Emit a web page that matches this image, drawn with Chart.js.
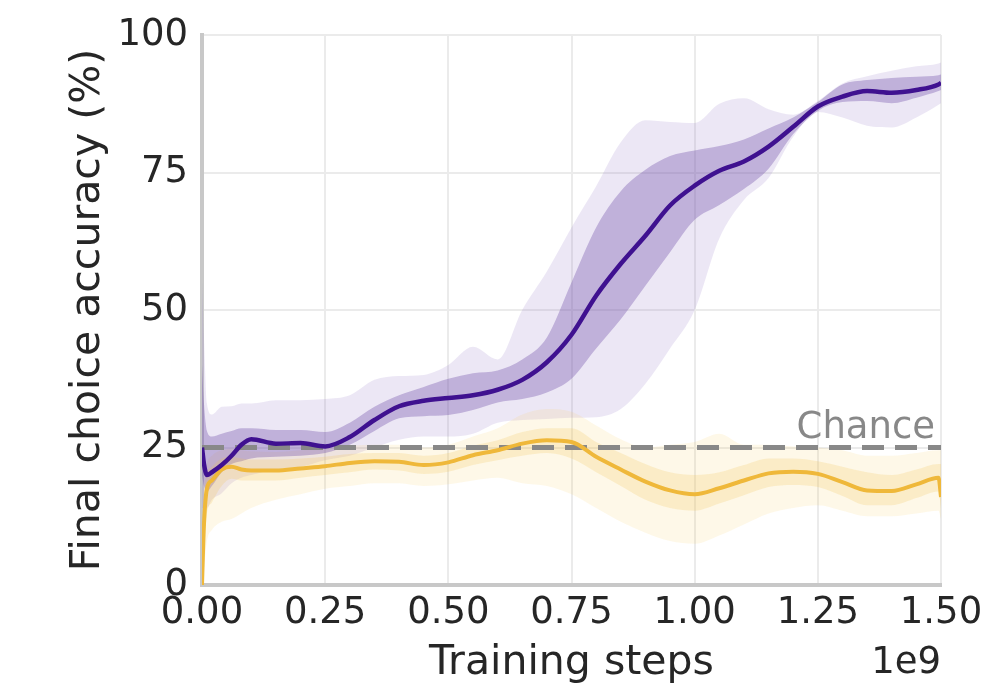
<!DOCTYPE html>
<html>
<head>
<meta charset="utf-8">
<script src="https://cdn.jsdelivr.net/npm/chart.js@4/dist/chart.umd.min.js"></script>
<style>
  body { margin: 0; background: #fff; }
  canvas { display: block; }
</style>
</head>
<body>
<canvas id="accChart" width="985" height="688"></canvas>
<script>
// training steps, in units of 1e9
const steps = [0, 0.004, 0.01, 0.02, 0.04, 0.06, 0.08, 0.1, 0.15, 0.2, 0.25, 0.3, 0.35, 0.4, 0.45, 0.5, 0.55, 0.6, 0.65, 0.7, 0.75, 0.8, 0.85, 0.9, 0.95, 1.0, 1.05, 1.1, 1.15, 1.2, 1.25, 1.3, 1.35, 1.4, 1.45, 1.495, 1.5];

// purple run
const purpleMean    = [25, 22, 20, 20.5, 21.8, 23.5, 25.5, 26.5, 25.7, 25.8, 25.2, 26.9, 30, 32.5, 33.5, 34, 34.5, 35.5, 37.3, 40.5, 45.5, 52.6, 58.4, 63.5, 69, 72.6, 75.3, 77, 79.7, 83.3, 87, 88.8, 89.8, 89.5, 90, 91, 91.3];
const purpleInnerLo = [20, 18, 17, 18, 20.5, 22, 22.5, 23, 23.3, 23.5, 24, 25.5, 28, 30.3, 30.7, 30.9, 31.8, 33.2, 33.8, 35, 37.5, 43, 48.3, 54.4, 60.5, 66.4, 69.1, 72, 75.7, 82, 86.2, 87.8, 88, 87.6, 88.6, 89.8, 90];
const purpleInnerHi = [40, 33, 28, 27, 27.5, 28, 28.5, 28.5, 28.2, 28.2, 27.8, 29.5, 32.4, 34.5, 36, 37.5, 38.5, 39, 41, 45, 55, 65, 71.6, 75.5, 78, 79, 79.8, 81, 83, 85, 87.8, 91, 91.8, 92.2, 92.4, 92.7, 92.8];
const purpleOuterLo = [14, 14, 14, 15.5, 16.7, 18.5, 19.5, 20, 21, 21.5, 22.7, 23.5, 25, 26.4, 27, 27, 27.5, 29.5, 30, 30.2, 30.4, 30.5, 32, 36.6, 43, 50, 63, 70, 74, 81.5, 86, 85, 83.5, 83.2, 85, 87.3, 87.6];
const purpleOuterHi = [55, 45, 33, 31, 32.4, 32.5, 33, 33, 33.6, 33.6, 33.8, 34.5, 37.3, 38, 38.2, 40, 43.3, 41, 50, 57, 65, 72.5, 80.5, 84.5, 84.2, 84, 87.5, 88.5, 86.5, 85.5, 88, 91.2, 92.5, 93.5, 94.3, 94.8, 95];

// yellow run
const yellowMean    = [0, 11, 17.5, 19, 21, 21.5, 21, 20.8, 20.8, 21.2, 21.6, 22.2, 22.5, 22.4, 21.8, 22.3, 23.6, 24.5, 25.7, 26.3, 26, 23.3, 21, 18.8, 17.2, 16.5, 17.6, 19, 20.3, 20.6, 20.2, 18.7, 17.2, 17.1, 18.3, 19.5, 16];
const yellowInnerLo = [0, 7, 13, 15, 18, 19.3, 19, 19, 19, 19.5, 20, 20.5, 21, 20.8, 20.2, 20.6, 21.8, 22.7, 23.5, 24, 23, 20.5, 18, 15.5, 14, 13.5, 14.8, 16.3, 17.8, 18.2, 17.8, 16.2, 14.5, 14.5, 15.8, 17, 14];
const yellowInnerHi = [2, 15, 20, 21.5, 23, 23.3, 23, 22.8, 22.8, 23, 23.3, 23.8, 24, 24, 23.5, 24, 25.3, 26.3, 27.8, 28.5, 28.5, 26, 24, 22, 20.5, 20, 20.5, 21.8, 23, 23, 22.5, 21.5, 20.5, 20, 21, 22, 22];
const yellowOuterLo = [0, 3, 8, 10, 11.5, 12, 13, 14, 15.5, 16.5, 17.5, 18, 18.5, 18.5, 18, 18.3, 19, 19.5, 18.5, 18, 16.5, 14, 11.5, 9.5, 8, 7.5, 9, 11, 13, 14, 14.5, 13.5, 12.5, 12.5, 13, 13.5, 12];
const yellowOuterHi = [4, 18, 22, 23.5, 24.5, 24.8, 24.5, 24.3, 24.2, 24.5, 24.8, 25.3, 25.5, 25.5, 25, 25.5, 27, 28.5, 31, 32, 31.5, 29, 26.5, 25, 25.5, 26, 27.5, 25.5, 25.5, 25.2, 25, 24.5, 23.5, 23.5, 24, 24.5, 24.5];

const chanceLevel = 25;
const xTicks = [0, 0.25, 0.5, 0.75, 1.0, 1.25, 1.5];
const yTicks = [0, 25, 50, 75, 100];

const pts = arr => steps.map((s, i) => ({ x: s, y: arr[i] }));

function bandEdge(arr, order) {
    return { data: pts(arr), borderWidth: 0, borderColor: 'transparent', fill: false, order: order };
}
function bandTop(arr, color, order) {
    return { data: pts(arr), borderWidth: 0, borderColor: 'transparent', backgroundColor: color, fill: '-1', order: order };
}

const FONT = 'DejaVu Sans';

// Chance label and the axis offset text
const extraText = {
    id: 'extraText',
    afterDraw(chart) {
        const { ctx, scales: { x, y } } = chart;
        ctx.save();
        ctx.font = '37px "' + FONT + '"';
        ctx.textAlign = 'right';
        ctx.textBaseline = 'alphabetic';
        ctx.fillStyle = '#888888';
        ctx.fillText('Chance', x.getPixelForValue(1.488), y.getPixelForValue(chanceLevel) - 10);
        ctx.fillStyle = '#262626';
        ctx.fillText('1e9', x.right, 673);
        ctx.restore();
    }
};

new Chart(document.getElementById('accChart').getContext('2d'), {
    type: 'line',
    data: {
        datasets: [
            bandEdge(purpleOuterLo, 10),
            bandTop(purpleOuterHi, 'rgba(150, 120, 200, 0.18)', 10),
            bandEdge(yellowOuterLo, 9),
            bandTop(yellowOuterHi, 'rgba(245, 205, 90, 0.14)', 9),
            bandEdge(purpleInnerLo, 8),
            bandTop(purpleInnerHi, 'rgba(115, 80, 170, 0.36)', 8),
            bandEdge(yellowInnerLo, 7),
            bandTop(yellowInnerHi, 'rgba(242, 195, 80, 0.22)', 7),
            {
                data: [{ x: 0, y: chanceLevel }, { x: 1.5, y: chanceLevel }],
                borderColor: '#888888',
                borderWidth: 5,
                borderDash: [22, 11],
                fill: false,
                order: 3
            },
            { data: pts(yellowMean), borderColor: '#efb83a', borderWidth: 4, fill: false, order: 2 },
            { data: pts(purpleMean), borderColor: '#3f1190', borderWidth: 4.5, fill: false, order: 1 }
        ]
    },
    options: {
        responsive: false,
        animation: false,
        layout: { padding: { top: 35, right: 44, left: 0, bottom: 0 } },
        elements: { point: { radius: 0 }, line: { cubicInterpolationMode: 'monotone' } },
        plugins: { legend: { display: false }, tooltip: { enabled: false } },
        scales: {
            x: {
                type: 'linear',
                min: 0,
                max: 1.5,
                afterBuildTicks: s => { s.ticks = xTicks.map(v => ({ value: v })); },
                afterFit: s => { s.height = 103; s.paddingLeft = 0; s.paddingRight = 0; },
                ticks: {
                    callback: v => v.toFixed(2),
                    font: { family: FONT, size: 37 },
                    color: '#262626',
                    padding: 6,
                    maxRotation: 0,
                    autoSkip: false
                },
                grid: { color: '#ebebeb', lineWidth: 2, drawTicks: false },
                border: { color: '#c8c8c8', width: 4 },
                title: {
                    display: true,
                    text: 'Training steps',
                    font: { family: FONT, size: 41 },
                    color: '#262626',
                    padding: { top: 0, bottom: 0 }
                }
            },
            y: {
                min: 0,
                max: 100,
                afterBuildTicks: s => { s.ticks = yTicks.map(v => ({ value: v })); },
                afterFit: s => { s.width = 202; s.paddingTop = 0; s.paddingBottom = 0; },
                ticks: {
                    font: { family: FONT, size: 37 },
                    color: '#262626',
                    padding: 14
                },
                grid: { color: '#ebebeb', lineWidth: 2, drawTicks: false },
                border: { color: '#c8c8c8', width: 4 },
                title: {
                    display: true,
                    text: 'Final choice accuracy (%)',
                    font: { family: FONT, size: 41 },
                    color: '#262626',
                    padding: { top: 64, bottom: 64 }
                }
            }
        }
    },
    plugins: [extraText]
});
</script>
</body>
</html>
